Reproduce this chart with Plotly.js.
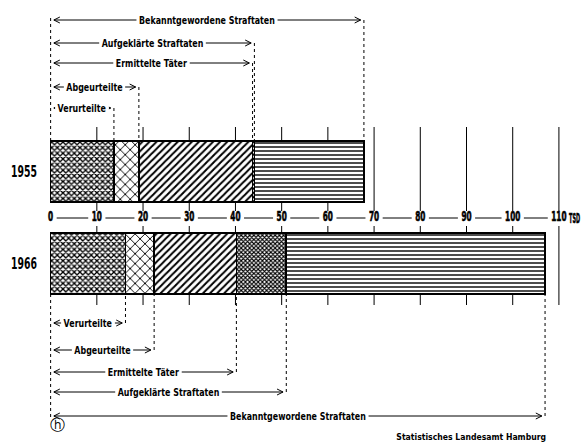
<!DOCTYPE html>
<html><head><meta charset="utf-8">
<script src="https://cdn.plot.ly/plotly-3.0.1.min.js"></script>
<style>html,body{margin:0;padding:0;background:#fff}</style>
</head><body><div id="chart" style="width:582px;height:442px"></div>
<script>
// ---- data (thousands of cases, cumulative) ----
const years = ['1955', '1966'];
const verurteilte  = [13.7, 16.2];
const abgeurteilte = [19.1, 22.4];
const ermittelte   = [43.7, 40.2];
const aufgeklaert  = [44.1, 51.0];
const bekannt      = [67.8, 107.0];
const seriesNames = ['Verurteilte', 'Abgeurteilte', 'Ermittelte Täter', 'Aufgeklärte Straftaten', 'Bekanntgewordene Straftaten'];
const tickVals   = [0, 10, 20, 30, 40, 50, 60, 70, 80, 90, 100, 110];
const tickLabels = ['0', '10', '20', '30', '40', '50', '60', '70', '80', '90', '100', '110'];
const unitLabel = 'TSD';
const sourceText = 'Statistisches Landesamt Hamburg';

// ---- layout helpers ----
const FONT = '"DejaVu Sans Condensed", "DejaVu Sans", sans-serif';
const T = 125, B = 305, H = B - T;             // plot area in px
const L = 46, R = 7, W = 582 - L - R;
const py = y => (B - y) / H;                   // px -> paper (y)
const px = x => (x - L) / W;                   // px -> paper (x)
const PXU = 4.621;                             // px per unit
const cum = [verurteilte, abgeurteilte, ermittelte, aufgeklaert, bekannt];
const patterns = [
  {shape: 'x', size: 4, solidity: 0.55},
  {shape: 'x', size: 7, solidity: 0.25},
  {shape: '/', size: 5, solidity: 0.4},
  {shape: 'x', size: 3, solidity: 0.6},
  {shape: '-', size: 4, solidity: 0.35}
];

const traces = cum.map((arr, i) => ({
  type: 'bar', orientation: 'h', y: years,
  x: arr.map((v, j) => i === 0 ? v : v - cum[i - 1][j]),
  name: seriesNames[i], showlegend: false, hoverinfo: 'skip',
  marker: {color: 'white', line: {color: 'black', width: 1.6},
    pattern: Object.assign({fgcolor: 'black', bgcolor: 'white', fillmode: 'replace'}, patterns[i])}
}));

const shapes = [];
const annotations = [];
const squeezeSpec = [];     // per annotation: {f: factor} or {w: target width px}
const blk = {color: 'black', width: 1};
const dot = {color: 'black', width: 1, dash: 'dot'};
const bar1955Top = py(141), bar1966Bottom = py(294);
const topLevels = [108, 87, 63, 43, 20];
const bottomLevels = [323, 350, 372, 392, 416];
const ah = 1.3, av = 3 / H, tip = 0.7;

function addAnn(a, spec) { annotations.push(a); squeezeSpec.push(spec); }

function bracket(end, yPx, yEdge, text) {
  const y = py(yPx);
  shapes.push({type: 'line', xref: 'x', yref: 'paper', x0: tip, x1: end - tip, y0: y, y1: y, line: blk});
  shapes.push({type: 'path', xref: 'x', yref: 'paper', line: blk,
    path: `M ${tip + ah},${y + av} L ${tip},${y} L ${tip + ah},${y - av}`});
  shapes.push({type: 'path', xref: 'x', yref: 'paper', line: blk,
    path: `M ${end - tip - ah},${y + av} L ${end - tip},${y} L ${end - tip - ah},${y - av}`});
  shapes.push({type: 'line', xref: 'x', yref: 'paper', x0: end, x1: end, y0: y, y1: yEdge, line: dot});
  addAnn({xref: 'x', yref: 'paper', x: end / 2, y: y, xanchor: 'center', yanchor: 'middle', text: text,
    showarrow: false, bgcolor: 'white', borderpad: 2,
    font: {family: FONT, size: 10.5, weight: 700, color: 'black'}}, {f: 0.84});
}
seriesNames.forEach((n, i) => {
  bracket(cum[i][0], topLevels[i], bar1955Top, n);
  bracket(cum[i][1], bottomLevels[i], bar1966Bottom, n);
});
// left dotted reference line
shapes.push({type: 'line', xref: 'x', yref: 'paper', x0: 0, x1: 0, y0: py(18), y1: bar1955Top, line: dot});
shapes.push({type: 'line', xref: 'x', yref: 'paper', x0: 0, x1: 0, y0: bar1966Bottom, y1: py(418), line: dot});

// vertical grid segments, interrupted by the scale labels
const axisY = 218;
tickVals.forEach(v => {
  if (v === 0) return;
  shapes.push({type: 'line', layer: 'below', xref: 'x', yref: 'paper', x0: v, x1: v, y0: py(127), y1: py(211), line: blk});
  shapes.push({type: 'line', layer: 'below', xref: 'x', yref: 'paper', x0: v, x1: v, y0: py(226), y1: py(305), line: blk});
});
// connecting rules between scale labels
const DIGIT_W = 5.1;
const gap = s => (s.length * DIGIT_W / 2 + 3.5) / PXU;
for (let k = 0; k < tickVals.length - 1; k++) {
  shapes.push({type: 'line', xref: 'x', yref: 'paper',
    x0: tickVals[k] + gap(tickLabels[k]), x1: tickVals[k + 1] - gap(tickLabels[k + 1]),
    y0: py(axisY), y1: py(axisY), line: blk});
}
addAnn({xref: 'paper', yref: 'paper', x: px(574.5), y: py(axisY), xanchor: 'center', yanchor: 'middle',
  text: unitLabel, showarrow: false, font: {family: FONT, size: 13.5, weight: 700, color: 'black'}}, {w: 11});
addAnn({xref: 'paper', yref: 'paper', x: px(471), y: py(437), xanchor: 'center', yanchor: 'middle',
  text: sourceText, showarrow: false,
  font: {family: '"DejaVu Sans", sans-serif', size: 9, weight: 700, color: 'black'}}, {w: 150});
addAnn({xref: 'paper', yref: 'paper', x: px(57), y: py(425), xanchor: 'center', yanchor: 'middle',
  text: 'ⓗ', showarrow: false, font: {family: '"DejaVu Sans", sans-serif', size: 15, color: 'black'}}, {f: 1});

const layout = {
  width: 582, height: 442,
  margin: {l: L, r: R, t: T, b: 442 - B, pad: 0},
  paper_bgcolor: 'white', plot_bgcolor: 'white',
  barmode: 'stack', bargap: 0.337,
  showlegend: false,
  xaxis: {range: [-1, 113.48], tickvals: tickVals, ticktext: tickLabels, showgrid: false, zeroline: false,
    showline: false, ticks: '', anchor: 'free', position: (B - 207) / H,
    tickfont: {family: FONT, size: 13.5, weight: 700, color: 'black'}},
  yaxis: {type: 'category', categoryarray: years, range: [1.451, -0.505], autorange: false,
    showgrid: false, zeroline: false, showline: false, ticks: '', ticklabelstandoff: 8,
    tickfont: {family: FONT, size: 15, weight: 700, color: 'black'}},
  shapes: shapes, annotations: annotations
};

// narrow the glyphs (horizontal scale about the text anchor) to imitate the condensed lettering
function squeeze(t, spec) {
  if (!t || !spec) return 0;
  const w = t.getComputedTextLength();
  const target = spec.w !== undefined ? spec.w : w * spec.f;
  if (!(w > 0) || target >= w) return 0;
  const f = target / w;
  const ax = parseFloat(t.getAttribute('x')) || 0;
  const prev = t.getAttribute('transform') || '';
  t.setAttribute('transform', `${prev} translate(${ax},0) scale(${f.toFixed(4)},1) translate(${-ax},0)`.trim());
  return w - target;
}
Plotly.newPlot('chart', traces, layout, {staticPlot: true, displayModeBar: false}).then(gd => {
  gd.querySelectorAll('.xtick text').forEach(t => {
    t.style.fontWeight = 'bold'; t.style.stroke = 'black'; t.style.strokeWidth = '0.6px';
    squeeze(t, {w: t.textContent.length * DIGIT_W});
  });
  gd.querySelectorAll('.ytick text').forEach(t => { t.style.fontWeight = 'bold'; squeeze(t, {w: 26}); });
  gd.querySelectorAll('g.annotation').forEach(g => {
    const idx = +g.getAttribute('data-index');
    const t = g.querySelector('text.annotation-text');
    if (idx === annotations.length - 3 && t) { t.style.stroke = 'black'; t.style.strokeWidth = '0.6px'; }
    const d = squeeze(t, squeezeSpec[idx]);
    const r = g.querySelector('rect.bg');
    if (r && d > 0) {
      const x = parseFloat(r.getAttribute('x')) || 0, w = parseFloat(r.getAttribute('width')) || 0;
      r.setAttribute('x', x + d / 2);
      r.setAttribute('width', Math.max(0, w - d));
    }
  });
});
</script></body></html>
